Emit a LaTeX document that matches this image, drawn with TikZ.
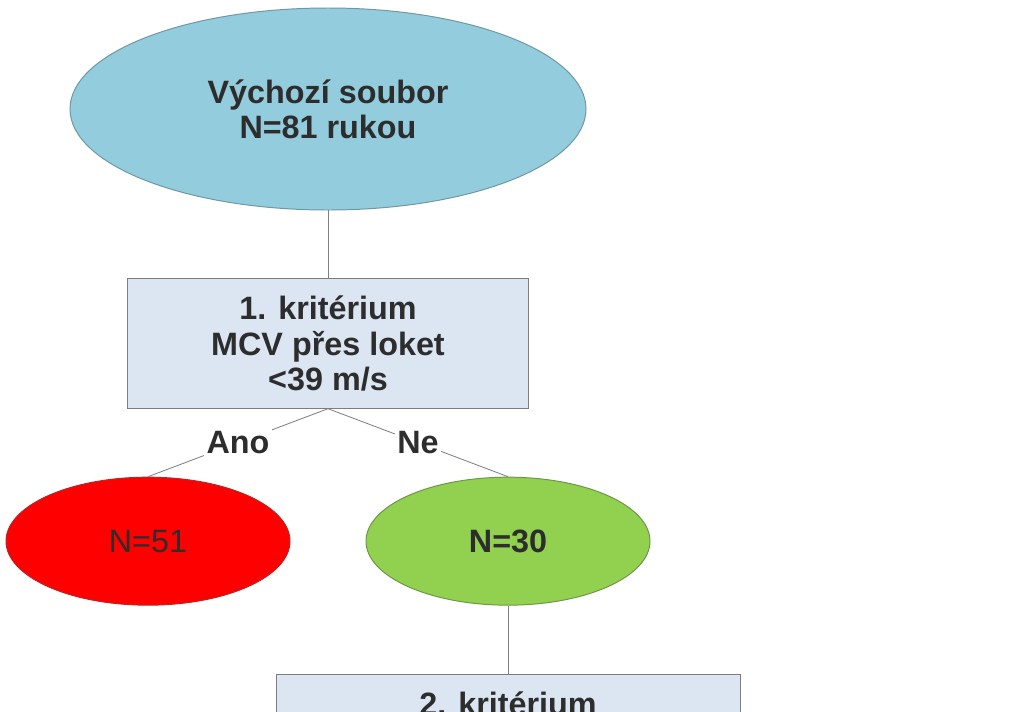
\documentclass[tikz,border=0pt]{standalone}
\usepackage{fontspec}
\setsansfont{Liberation Sans}
\usepackage{xcolor}
\usetikzlibrary{shapes.geometric, positioning}

\definecolor{startblue}{RGB}{147,205,221}
\definecolor{startedge}{RGB}{110,150,165}
\definecolor{critfill}{RGB}{220,230,242}
\definecolor{critedge}{RGB}{125,125,125}
\definecolor{badred}{RGB}{255,0,0}
\definecolor{badedge}{RGB}{180,40,40}
\definecolor{goodgreen}{RGB}{146,208,80}
\definecolor{goodedge}{RGB}{110,150,70}
\definecolor{linegray}{RGB}{128,128,128}
\definecolor{txtgray}{RGB}{45,45,45}

\begin{document}
\begin{tikzpicture}[
    txt/.style={font=\sffamily\bfseries\fontsize{23pt}{25pt}\selectfont, text=txtgray},
    start/.style={txt, ellipse, draw=startedge, fill=startblue, line width=0.7pt,
                  minimum width=12.9cm, minimum height=5.05cm, inner sep=0pt, align=center},
    crit/.style={txt, draw=critedge, fill=critfill, line width=0.7pt,
                 minimum width=10.03cm, minimum height=3.23cm, align=center},
    result/.style={txt, ellipse, line width=0.7pt, minimum width=7.1cm,
                   minimum height=3.2cm, inner sep=0pt},
    bad/.style={result, draw=badedge, fill=badred, font=\sffamily\fontsize{23pt}{25pt}\selectfont},
    good/.style={result, draw=goodedge, fill=goodgreen},
    link/.style={draw=linegray, line width=0.6pt},
    answer/.style={txt, fill=white, inner sep=2pt},
    node distance=1.7cm
]
\useasboundingbox (0,0) rectangle (25.6,-17.775);
\clip (0,0) rectangle (25.6,-17.775);

\node[start] (start) at (8.2,-2.725) {Výchozí soubor\\N=81 rukou};
\node[crit, below=of start] (crit1) {1. kritérium\\MCV přes loket\\<39 m/s};
\node[bad, below=of crit1, xshift=-4.5cm] (bad) {N=51};
\node[good, below=of crit1, xshift=4.5cm] (good) {N=30};
\node[crit, below=of good, minimum width=11.6cm] (crit2) {2. kritérium\\\phantom{X}\\\phantom{X}};

\draw[link] (start) -- (crit1);
\draw[link] (crit1.south) -- node[answer] {Ano} (bad.north);
\draw[link] (crit1.south) -- node[answer] {Ne} (good.north);
\draw[link] (good) -- (crit2);
\end{tikzpicture}
\end{document}
